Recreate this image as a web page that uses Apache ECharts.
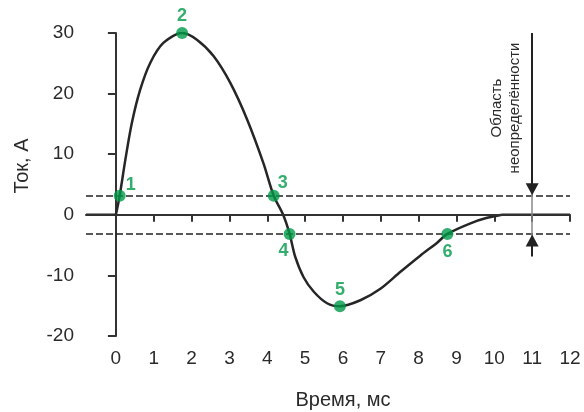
<!DOCTYPE html>
<html>
<head>
<meta charset="utf-8">
<script src="https://cdn.jsdelivr.net/npm/echarts@6/dist/echarts.min.js"></script>
<style>html,body{margin:0;padding:0;background:#fff;}#c{width:584px;height:412px;}</style>
</head>
<body>
<div id="c"></div>
<script>
// Curve (time in ms, current in A)
const curveX = [-0.79, 0, 0.1, 0.25, 0.42, 0.64, 0.91, 1.26, 1.75, 2.14, 2.58, 3.02, 3.47, 3.9, 4.17, 4.42, 4.59, 4.74, 4.96, 5.23, 5.58, 5.92, 6.46, 6.99, 7.52, 8.05, 8.49, 8.76, 9.37, 9.81, 10.2, 12];
const curveY = [0, 0, 3.15, 9.1, 15.1, 20.6, 25.1, 28.4, 30, 28.9, 26.2, 21.8, 15.7, 8.5, 3.15, 0, -3.15, -6.95, -10.3, -12.7, -14.6, -15.1, -14.1, -12.2, -9.4, -6.7, -4.6, -3.15, -1.4, -0.5, 0, 0];
// Marked points
const pointX = [0.1, 1.75, 4.17, 4.59, 5.92, 8.76];
const pointY = [3.15, 30, 3.15, -3.15, -15.1, -3.15];
const pointLabels = ['1', '2', '3', '4', '5', '6'];
// Threshold levels and uncertainty marker
const threshold = 3.15;
const markerX = 11;
const markerTop = 30;
const markerBottom = -6.9;
// Axis ticks
const xTicks = [0, 1, 2, 3, 4, 5, 6, 7, 8, 9, 10, 11, 12];
const yTicks = [-20, -10, 0, 10, 20, 30];
const xName = 'Время, мс';
const yName = 'Ток, А';
const noteText = 'Область\nнеопределённости';

const labelOffsets = [[11, -11], [0, -17], [9, -13], [-6, 17], [0, -16], [0, 18]];
const green = '#009a49';
const dark = '#262626';
const font = 'Liberation Sans, Arial, sans-serif';

const pts = curveX.map((x, i) => [x, curveY[i]]);
const flatStart = pts.slice(0, 2);
const pulse = pts.slice(1, pts.length - 1);
const flatEnd = pts.slice(pts.length - 2);

const chart = echarts.init(document.getElementById('c'));
const curveStyle = {color: dark, width: 2.5};
chart.setOption({
  animation: false,
  backgroundColor: '#fff',
  grid: {left: 86, right: 14, top: 33, bottom: 76},
  xAxis: {
    type: 'value', min: -0.79, max: 12,
    axisLine: {show: true, lineStyle: {color: '#333', width: 2}},
    axisTick: {show: true, length: 7, lineStyle: {color: '#333', width: 2}, customValues: xTicks},
    axisLabel: {customValues: xTicks, color: '#2a2a2a', fontSize: 19, fontFamily: font, margin: 13},
    splitLine: {show: false}
  },
  yAxis: {
    type: 'value', min: yTicks[0], max: yTicks[yTicks.length - 1], interval: 10,
    axisLine: {show: true, lineStyle: {color: '#333', width: 2}},
    axisTick: {show: true, length: 8, lineStyle: {color: '#333', width: 2}},
    axisLabel: {color: '#2a2a2a', fontSize: 19, fontFamily: font, margin: 12},
    splitLine: {show: false}
  },
  series: [
    {
      type: 'line', data: [], silent: true,
      markLine: {
        silent: true, symbol: 'none', animation: false,
        label: {show: false},
        data: [
          {yAxis: 0, lineStyle: {color: '#333', width: 1.7, type: 'solid'}},
          {yAxis: threshold, lineStyle: {color: '#222', width: 1.5, type: [7, 3]}},
          {yAxis: -threshold, lineStyle: {color: '#222', width: 1.5, type: [7, 3]}},
          [{coord: [markerX, threshold + 1.05], lineStyle: {color: '#888', width: 1.5, type: 'solid'}}, {coord: [markerX, -threshold - 1.1]}],
          [{coord: [markerX, markerTop], symbol: 'none', lineStyle: {color: '#222', width: 2, type: 'solid'}},
           {coord: [markerX, threshold + 1.05], symbol: 'triangle', symbolSize: [13, 12]}],
          [{coord: [markerX, markerBottom], symbol: 'none', lineStyle: {color: '#222', width: 2, type: 'solid'}},
           {coord: [markerX, -threshold - 1.1], symbol: 'triangle', symbolSize: [13, 12]}]
        ]
      }
    },
    {type: 'line', showSymbol: false, silent: true, lineStyle: curveStyle, data: flatStart, z: 3},
    {type: 'line', smooth: 0.3, showSymbol: false, silent: true, lineStyle: curveStyle, data: pulse, z: 3},
    {type: 'line', showSymbol: false, silent: true, lineStyle: curveStyle, data: flatEnd, z: 3},
    {
      type: 'scatter', symbolSize: 12, silent: true, z: 5,
      itemStyle: {color: green},
      data: pointX.map((x, i) => ({
        value: [x, pointY[i]],
        label: {
          show: true, position: 'inside', offset: labelOffsets[i],
          formatter: pointLabels[i], color: green, fontWeight: 'bold', fontSize: 18, fontFamily: font
        }
      }))
    }
  ],
  graphic: [
    {type: 'text', x: 22, y: 166, rotation: Math.PI / 2,
     style: {text: yName, fill: '#2a2a2a', fontSize: 20, fontFamily: font, textAlign: 'center', textVerticalAlign: 'middle'}},
    {type: 'text', x: 343, y: 400,
     style: {text: xName, fill: '#2a2a2a', fontSize: 20, fontFamily: font, textAlign: 'center', textVerticalAlign: 'middle'}},
    {type: 'text', x: 506, y: 108, rotation: Math.PI / 2,
     style: {text: noteText, fill: '#2a2a2a', fontSize: 15, lineHeight: 18, fontFamily: font, textAlign: 'center', textVerticalAlign: 'middle'}}
  ]
});
</script>
</body>
</html>
